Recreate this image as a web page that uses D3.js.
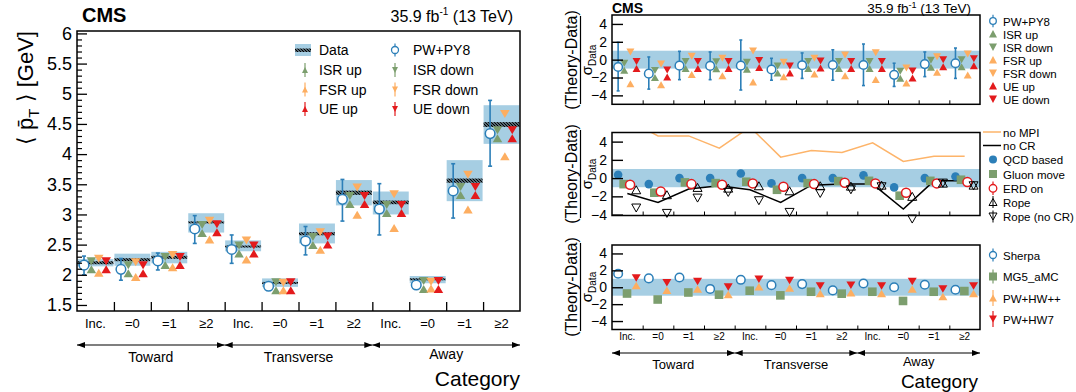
<!DOCTYPE html>
<html>
<head>
<meta charset="utf-8">
<script src="https://cdn.jsdelivr.net/npm/d3@7"></script>
<style>
  body { margin: 0; background: #fff; }
  svg { font-family: "Liberation Sans", Arial, Helvetica, sans-serif; }
</style>
</head>
<body>
<div id="chart"></div>
<script>
// ---- data ----
const categories = ["Inc.", "=0", "=1", "≥2", "Inc.", "=0", "=1", "≥2", "Inc.", "=0", "=1", "≥2"];
const regions = ["Toward", "Transverse", "Away"];

// left: <pT> in GeV
const dataMean = [2.20, 2.25, 2.29, 2.87, 2.47, 1.87, 2.68, 3.36, 3.20, 1.93, 3.56, 4.49];
const dataStat = [0.025, 0.025, 0.025, 0.015, 0.015, 0.012, 0.025, 0.035, 0.03, 0.012, 0.035, 0.04];
const bandLo = [2.14, 2.15, 2.19, 2.70, 2.39, 1.80, 2.52, 3.15, 3.00, 1.86, 3.22, 4.17];
const bandHi = [2.26, 2.35, 2.38, 3.02, 2.57, 1.94, 2.85, 3.57, 3.38, 1.98, 3.90, 4.81];
const pwpy8 = [2.16, 2.09, 2.23, 2.76, 2.42, 1.81, 2.56, 3.25, 3.09, 1.83, 3.39, 4.34];
const pwpy8Lo = [2.00, 1.91, 2.08, 2.52, 2.19, 1.76, 2.33, 2.89, 2.66, 1.78, 2.94, 3.80];
const pwpy8Hi = [2.31, 2.27, 2.36, 2.98, 2.66, 1.85, 2.80, 3.58, 3.51, 1.87, 3.84, 4.89];
const isrUp = [2.16, 2.09, 2.23, 2.76, 2.42, 1.81, 2.56, 3.24, 3.09, 1.83, 3.39, 4.33];
const isrDown = [2.16, 2.09, 2.23, 2.76, 2.42, 1.81, 2.56, 3.24, 3.09, 1.83, 3.39, 4.33];
const fsrUp = [2.10, 2.03, 2.19, 2.65, 2.32, 1.81, 2.48, 3.06, 2.84, 1.84, 3.15, 4.03];
const fsrDown = [2.20, 2.14, 2.26, 2.83, 2.50, 1.80, 2.64, 3.38, 3.27, 1.82, 3.59, 4.60];
const ueUp = [2.16, 2.09, 2.23, 2.77, 2.42, 1.81, 2.57, 3.24, 3.09, 1.83, 3.39, 4.33];
const ueDown = [2.16, 2.09, 2.23, 2.77, 2.42, 1.81, 2.57, 3.24, 3.09, 1.83, 3.39, 4.33];

// right top: (theory-data)/sigma
const pw1 = [-0.82, -1.57, -0.67, -0.70, -0.67, -1.10, -0.62, -0.60, -0.60, -1.70, -0.50, -0.40];
const pw1Lo = [-3.5, -3.3, -2.24, -2.24, -3.4, -2.3, -2.1, -2.3, -2.9, -3.0, -1.9, -2.1];
const pw1Hi = [1.94, 0.3, 0.93, 0.86, 2.2, 0.15, 0.75, 1.1, 1.75, -0.4, 0.86, 1.3];
const isr1 = [-0.8, -1.6, -0.6, -0.63, -0.67, -1.1, -0.6, -0.6, -0.6, -1.7, -0.45, -0.4];
const fsrUp1 = [-2.32, -2.42, -1.27, -1.42, -2.12, -1.52, -1.22, -1.42, -1.82, -2.22, -1.02, -1.32];
const fsrDown1 = [0.47, -0.88, -0.01, -0.23, 0.59, -0.68, -0.23, 0.12, 0.37, -1.33, -0.08, 0.25];
const ue1 = [-0.6, -1.55, -0.6, -0.6, -0.5, -1.1, -0.55, -0.6, -0.6, -1.65, -0.4, -0.3];

// right middle
const noMPI = [6.4, 4.63, 4.63, 3.28, 5.6, 2.3, 3.03, 2.8, 3.87, 1.82, 2.4, 2.4];
const noCR = [-1.68, -2.66, -1.2, -0.84, -1.28, -2.66, -0.77, -0.66, -0.66, -3.4, -0.3, -0.3];
const qcdBased = [0.36, -0.66, 0, 0, 0.5, -0.58, 0, 0, 0.3, -1.02, 0, 0.18];
const gluonMove = [-0.66, -1.6, -0.47, -0.55, -0.4, -1.28, -0.55, -0.33, -0.3, -1.93, -0.3, -0.18];
const erdOn = [-0.73, -1.46, -0.66, -0.73, -0.58, -0.95, -0.66, -0.51, -0.58, -1.6, -0.58, -0.44];
const rope = [-1.28, -1.82, -1.02, -1.1, -0.84, -1.39, -0.84, -0.88, -0.77, -2.0, -0.55, -0.77];
const ropeNoCR = [-3.28, -3.87, -2.19, -1.57, -2.48, -3.76, -1.68, -1.28, -0.95, -4.49, -0.55, -0.84];

// right bottom
const sherpa = [1.6, 1.05, 1.15, -0.2, 0.88, 0.25, 0.37, -0.37, 0.45, 0.0, 0.3, -0.3];
const mg5 = [-0.74, -1.45, -0.62, -0.88, -0.41, -0.96, -0.53, -0.76, -0.53, -1.62, -0.53, -0.45];
const pwhwpp = [0.65, 0.1, 0.25, -0.4, 0.5, 0.35, -0.3, -0.2, -0.3, 0.25, -0.64, -0.3];
const pwhw7 = [0.65, 0.1, 0.25, -0.4, 0.5, 0.35, -0.3, -0.2, -0.3, 0.25, -0.64, -0.3];

const leftTicks = [1.5, 2, 2.5, 3, 3.5, 4, 4.5, 5, 5.5, 6];
const ratioTicks = [-4, -2, 0, 2, 4];

// ---- colours ----
const cBlue = "#2c7fb8", cBand = "#a6cee3", cGreen = "#7c9e6e",
      cOrange = "#fdae61", cRed = "#e31a1c", cLine = "#fdb46a";

const svg = d3.select("#chart").append("svg")
  .attr("width", 1076).attr("height", 392);

const defs = svg.append("defs");
const hatch = defs.append("pattern").attr("id", "hatch")
  .attr("patternUnits", "userSpaceOnUse").attr("width", 3).attr("height", 3);
hatch.append("path").attr("d", "M-1,-1L4,4M2,-1L4,1M-1,2L1,4")
  .attr("stroke", "#000").attr("stroke-width", 1.4);
defs.append("marker").attr("id", "arrow").attr("viewBox", "0 0 8 6")
  .attr("refX", 8).attr("refY", 3).attr("markerWidth", 8).attr("markerHeight", 6)
  .attr("markerUnits", "userSpaceOnUse").attr("orient", "auto-start-reverse")
  .append("path").attr("d", "M0,0L8,3L0,6z").attr("fill", "#000");

// marker helpers
function triApex(g, x, y, up, w, h, fill) {   // apex at (x,y)
  const s = up ? 1 : -1;
  g.append("path")
    .attr("d", `M${x},${y}L${x - w / 2},${y + s * h}L${x + w / 2},${y + s * h}Z`)
    .attr("fill", fill);
}
function triCentre(g, x, y, up, w, h) {
  const s = up ? 1 : -1;
  g.append("path")
    .attr("d", `M${x},${y - s * h / 2}L${x - w / 2},${y + s * h / 2}L${x + w / 2},${y + s * h / 2}Z`)
    .attr("fill", "none").attr("stroke", "#000").attr("stroke-width", 1);
}
function errBar(g, x, y0, y1, col, cap) {
  g.append("line").attr("x1", x).attr("x2", x).attr("y1", y0).attr("y2", y1)
    .attr("stroke", col).attr("stroke-width", 1.6);
  [y0, y1].forEach(yy => g.append("line").attr("x1", x - cap).attr("x2", x + cap)
    .attr("y1", yy).attr("y2", yy).attr("stroke", col).attr("stroke-width", 1.6));
}
function openCircle(g, x, y, r, col) {
  g.append("circle").attr("cx", x).attr("cy", y).attr("r", r)
    .attr("fill", "#fff").attr("stroke", col).attr("stroke-width", 1.5);
}
function sigmaTitle(cx, cy) {
  svg.append("text").attr("transform", `translate(577,${cy}) rotate(-90)`)
    .attr("text-anchor", "middle").attr("font-size", 16).text("(Theory-Data)");
  svg.append("line").attr("x1", 580.5).attr("x2", 580.5)
    .attr("y1", cy - 44).attr("y2", cy + 44).attr("stroke", "#000").attr("stroke-width", 1.2);
  const t2 = svg.append("text").attr("transform", `translate(592,${cy}) rotate(-90)`)
    .attr("text-anchor", "middle").attr("font-size", 15);
  t2.append("tspan").text("σ");
  t2.append("tspan").attr("font-size", 10).attr("dy", 4).text("Data");
}

// =================== LEFT PANEL ===================
const xL = d3.scaleLinear().domain([0, 12]).range([77, 520]);
const yL = d3.scaleLinear().domain([1.40, 6.04]).range([311, 31]);
const gL = svg.append("g");

categories.forEach((c, i) => {
  gL.append("rect").attr("x", xL(i) + 0.5).attr("width", xL(i + 1) - xL(i) - 1)
    .attr("y", yL(bandHi[i])).attr("height", yL(bandLo[i]) - yL(bandHi[i]))
    .attr("fill", cBand);
  const hy = yL(dataMean[i] + dataStat[i]), hh = Math.max(2, yL(dataMean[i] - dataStat[i]) - hy);
  gL.append("rect").attr("x", xL(i) + 0.5).attr("width", xL(i + 1) - xL(i) - 1)
    .attr("y", hy).attr("height", hh).attr("fill", "url(#hatch)");
});
categories.forEach((c, i) => {
  const xp = xL(i + 0.19), xi = xL(i + 0.39), xf = xL(i + 0.59), xu = xL(i + 0.79);
  errBar(gL, xp, yL(pwpy8Hi[i]), yL(pwpy8Lo[i]), cBlue, 2);
  openCircle(gL, xp, yL(pwpy8[i]), 4.8, cBlue);
  triApex(gL, xi, yL(isrUp[i]), true, 9.5, 8, cGreen);
  triApex(gL, xi, yL(isrDown[i]), false, 9.5, 8, cGreen);
  triApex(gL, xf, yL(fsrUp[i]), true, 9.5, 8, cOrange);
  triApex(gL, xf, yL(fsrDown[i]), false, 9.5, 8, cOrange);
  triApex(gL, xu, yL(ueUp[i]), true, 9.5, 8, cRed);
  triApex(gL, xu, yL(ueDown[i]), false, 9.5, 8, cRed);
});

// frame + axes
gL.append("rect").attr("x", 77).attr("y", 31).attr("width", 443).attr("height", 280)
  .attr("fill", "none").attr("stroke", "#000").attr("stroke-width", 1.5);
const minorL = d3.range(15, 61).map(v => v / 10).filter(v => Math.abs(v * 2 - Math.round(v * 2)) > 1e-6);
gL.append("g").attr("transform", "translate(77,0)")
  .call(d3.axisLeft(yL).tickValues(minorL).tickSize(-5).tickFormat(""))
  .call(g => g.select(".domain").remove())
  .selectAll("line").attr("stroke-width", 1.2);
gL.append("g").attr("transform", "translate(77,0)")
  .call(d3.axisLeft(yL).tickValues(leftTicks).tickSize(-10).tickPadding(5).tickFormat(d => d))
  .call(g => g.select(".domain").remove())
  .call(g => g.selectAll("line").attr("stroke-width", 1.3))
  .selectAll("text").attr("font-size", 18).attr("font-family", "Liberation Sans, Arial").attr("fill", "#000");
gL.append("g").attr("transform", "translate(0,311)")
  .call(d3.axisBottom(xL).tickValues(d3.range(1, 12)).tickSize(-9).tickFormat(""))
  .call(g => g.select(".domain").remove())
  .selectAll("line").attr("stroke-width", 1.3);

gL.selectAll(".catL").data(categories).join("text")
  .attr("x", (d, i) => xL(i + 0.5)).attr("y", 328)
  .attr("text-anchor", "middle").attr("font-size", 13).text(d => d);
regions.forEach((r, k) => {
  gL.append("line").attr("x1", xL(4 * k)).attr("x2", xL(4 * k + 4)).attr("y1", 345).attr("y2", 345)
    .attr("stroke", "#000").attr("stroke-width", 1.2)
    .attr("marker-start", "url(#arrow)").attr("marker-end", "url(#arrow)");
  gL.append("text").attr("x", xL(4 * k + 2)).attr("y", k === 2 ? 359 : 362)
    .attr("text-anchor", "middle").attr("font-size", 14).text(r);
});
gL.append("text").attr("x", 520).attr("y", 386).attr("text-anchor", "end")
  .attr("font-size", 21).text("Category");

// titles
gL.append("text").attr("x", 82).attr("y", 22).attr("font-size", 20).attr("font-weight", "bold").text("CMS");
const lumiL = gL.append("text").attr("x", 513).attr("y", 22).attr("text-anchor", "end").attr("font-size", 16);
lumiL.append("tspan").text("35.9 fb");
lumiL.append("tspan").attr("font-size", 10).attr("dy", -7).text("-1");
lumiL.append("tspan").attr("dy", 7).text(" (13 TeV)");

const yTitle = gL.append("text").attr("transform", "translate(33,31) rotate(-90)")
  .attr("text-anchor", "end").attr("font-size", 22);
yTitle.append("tspan").text("⟨ p\u0304");
yTitle.append("tspan").attr("font-size", 15).attr("dy", 6).text("T");
yTitle.append("tspan").attr("dy", -6).text(" ⟩ [GeV]");

// left legend
const lg = gL.append("g").attr("font-size", 14);
lg.append("rect").attr("x", 295).attr("y", 44).attr("width", 16).attr("height", 12).attr("fill", cBand);
lg.append("rect").attr("x", 295).attr("y", 48.5).attr("width", 16).attr("height", 3.5).attr("fill", "url(#hatch)");
lg.append("text").attr("x", 319).attr("y", 55).text("Data");
function legTri(g, x, y, up, col, w, h) {
  g.append("line").attr("x1", x).attr("x2", x).attr("y1", y - h - 1).attr("y2", y + h + 1)
    .attr("stroke", col).attr("stroke-width", 1.2);
  g.append("path").attr("d", up
      ? `M${x},${y - h / 2}L${x - w / 2},${y + h / 2}L${x + w / 2},${y + h / 2}Z`
      : `M${x},${y + h / 2}L${x - w / 2},${y - h / 2}L${x + w / 2},${y - h / 2}Z`)
    .attr("fill", col);
}
function legCirc(g, x, y, col, r) {
  g.append("line").attr("x1", x).attr("x2", x).attr("y1", y - r - 3).attr("y2", y + r + 3)
    .attr("stroke", col).attr("stroke-width", 1.2);
  g.append("circle").attr("cx", x).attr("cy", y).attr("r", r).attr("fill", "#fff")
    .attr("stroke", col).attr("stroke-width", 1.3);
}
legCirc(lg, 395, 50, cBlue, 3.5);
lg.append("text").attr("x", 413).attr("y", 55).text("PW+PY8");
[["ISR up", "ISR down", cGreen], ["FSR up", "FSR down", cOrange], ["UE up", "UE down", cRed]]
  .forEach((r, k) => {
    const yy = 70 + k * 19.5;
    legTri(lg, 305, yy, true, r[2], 6, 6);
    lg.append("text").attr("x", 319).attr("y", yy + 5).text(r[0]);
    legTri(lg, 395, yy, false, r[2], 6, 6);
    lg.append("text").attr("x", 413).attr("y", yy + 5).text(r[1]);
  });

// =================== RIGHT PANELS ===================
const xR = d3.scaleLinear().domain([0, 12]).range([612, 980]);
const y1 = d3.scaleLinear().domain([-5, 5]).range([104.3, 15]);
const y2 = d3.scaleLinear().domain([-4.1, 5]).range([215.5, 132.5]);
const y3 = d3.scaleLinear().domain([-5, 5]).range([329.5, 245]);

function ratioFrame(ys) {
  const g = svg.append("g");
  g.append("rect").attr("x", 612).attr("width", 368)
    .attr("y", ys(1)).attr("height", ys(-1) - ys(1)).attr("fill", cBand);
  return g;
}
function ratioAxes(ys) {
  const [b, t] = ys.range();
  svg.append("rect").attr("x", 612).attr("y", t).attr("width", 368).attr("height", b - t)
    .attr("fill", "none").attr("stroke", "#000").attr("stroke-width", 1.5);
  svg.append("g").attr("transform", "translate(612,0)")
    .call(d3.axisLeft(ys).tickValues(ratioTicks).tickSize(-11).tickPadding(5))
    .call(g => g.select(".domain").remove())
    .call(g => g.selectAll("line").attr("stroke-width", 1.4))
    .selectAll("text").attr("font-size", 14).attr("font-family", "Liberation Sans, Arial").attr("fill", "#000");
  svg.append("g").attr("transform", `translate(0,${b})`)
    .call(d3.axisBottom(xR).tickValues(d3.range(1, 12)).tickSize(-4).tickFormat(""))
    .call(g => g.select(".domain").remove());
}

// panel 1
const g1 = ratioFrame(y1);
categories.forEach((c, i) => {
  const xp = xR(i + 0.2), xi = xR(i + 0.4), xf = xR(i + 0.6), xu = xR(i + 0.8);
  errBar(g1, xp, y1(pw1Hi[i]), y1(pw1Lo[i]), cBlue, 1.5);
  openCircle(g1, xp, y1(pw1[i]), 4.3, cBlue);
  triApex(g1, xi, y1(isr1[i]), true, 8, 7, cGreen);
  triApex(g1, xi, y1(isr1[i]), false, 8, 7, cGreen);
  triApex(g1, xf, y1(fsrUp1[i]), true, 8, 7, cOrange);
  triApex(g1, xf, y1(fsrDown1[i]), false, 8, 7, cOrange);
  triApex(g1, xu, y1(ue1[i]), true, 8, 7, cRed);
  triApex(g1, xu, y1(ue1[i]), false, 8, 7, cRed);
});
ratioAxes(y1);
sigmaTitle(572, 60);

svg.append("text").attr("x", 612).attr("y", 12.5).attr("font-size", 14).attr("font-weight", "bold").text("CMS");
const lumiR = svg.append("text").attr("x", 971).attr("y", 12.5).attr("text-anchor", "end").attr("font-size", 13.5);
lumiR.append("tspan").text("35.9 fb");
lumiR.append("tspan").attr("font-size", 9).attr("dy", -5).text("-1");
lumiR.append("tspan").attr("dy", 5).text(" (13 TeV)");

const lr1 = svg.append("g").attr("font-size", 11.5);
const leg1 = [["PW+PY8", "c", cBlue], ["ISR up", "u", cGreen], ["ISR down", "d", cGreen],
  ["FSR up", "u", cOrange], ["FSR down", "d", cOrange], ["UE up", "u", cRed], ["UE down", "d", cRed]];
leg1.forEach((e, k) => {
  const yy = 21 + k * 13;
  if (e[1] === "c") legCirc(lr1, 993, yy, e[2], 3.3);
  else lr1.append("path").attr("d", e[1] === "u"
      ? `M993,${yy - 4}L989,${yy + 3.5}L997,${yy + 3.5}Z`
      : `M993,${yy + 4}L989,${yy - 3.5}L997,${yy - 3.5}Z`).attr("fill", e[2]);
  lr1.append("text").attr("x", 1003).attr("y", yy + 4.5).text(e[0]);
});

// panel 2
const g2 = ratioFrame(y2);
defs.append("clipPath").attr("id", "clip2").append("rect")
  .attr("x", 612).attr("y", 132.5).attr("width", 368).attr("height", 83);
const line2 = d3.line().x((d, i) => xR(i + 0.5)).y(d => y2(d));
g2.append("path").attr("d", line2(noMPI)).attr("clip-path", "url(#clip2)")
  .attr("fill", "none").attr("stroke", cLine).attr("stroke-width", 1.5);
g2.append("path").attr("d", line2(noCR)).attr("clip-path", "url(#clip2)")
  .attr("fill", "none").attr("stroke", "#000").attr("stroke-width", 1.5);
categories.forEach((c, i) => {
  g2.append("circle").attr("cx", xR(i + 0.2)).attr("cy", y2(qcdBased[i])).attr("r", 4.3).attr("fill", cBlue);
  g2.append("rect").attr("x", xR(i + 0.38) - 4.3).attr("y", y2(gluonMove[i]) - 4.3)
    .attr("width", 8.6).attr("height", 8.6).attr("fill", cGreen);
  openCircle(g2, xR(i + 0.59), y2(erdOn[i]), 4.5, cRed);
  triCentre(g2, xR(i + 0.79), y2(rope[i]), true, 9, 8);
  triCentre(g2, xR(i + 0.79), y2(ropeNoCR[i]), false, 9, 8);
});
ratioAxes(y2);
sigmaTitle(572, 174);

const lr2 = svg.append("g").attr("font-size", 11.5);
const leg2y = [132, 145.5, 159.5, 174, 188.3, 202, 216.5];
lr2.append("line").attr("x1", 983).attr("x2", 1001).attr("y1", leg2y[0]).attr("y2", leg2y[0])
  .attr("stroke", cLine).attr("stroke-width", 1.5);
lr2.append("line").attr("x1", 983).attr("x2", 1001).attr("y1", leg2y[1]).attr("y2", leg2y[1])
  .attr("stroke", "#000").attr("stroke-width", 1.5);
lr2.append("circle").attr("cx", 993).attr("cy", leg2y[2]).attr("r", 4).attr("fill", cBlue);
lr2.append("rect").attr("x", 989).attr("y", leg2y[3] - 4).attr("width", 8).attr("height", 8).attr("fill", cGreen);
legCirc(lr2, 993, leg2y[4], cRed, 3.8);
[[5, true], [6, false]].forEach(([k, up]) => {
  lr2.append("line").attr("x1", 993).attr("x2", 993).attr("y1", leg2y[k] - 6).attr("y2", leg2y[k] + 6)
    .attr("stroke", "#000").attr("stroke-width", 1);
  triCentre(lr2, 993, leg2y[k], up, 8, 7);
});
["no MPI", "no CR", "QCD based", "Gluon move", "ERD on", "Rope", "Rope (no CR)"].forEach((t, k) => {
  lr2.append("text").attr("x", 1003).attr("y", leg2y[k] + 4.5).text(t);
});

// panel 3
const g3 = ratioFrame(y3);
categories.forEach((c, i) => {
  openCircle(g3, xR(i + 0.2), y3(sherpa[i]), 4.3, cBlue);
  g3.append("rect").attr("x", xR(i + 0.49) - 4.3).attr("y", y3(mg5[i]) - 4.3)
    .attr("width", 8.6).attr("height", 8.6).attr("fill", cGreen);
  triApex(g3, xR(i + 0.79), y3(pwhwpp[i]), true, 9, 7.5, cOrange);
  triApex(g3, xR(i + 0.79), y3(pwhw7[i]), false, 9, 7.5, cRed);
});
ratioAxes(y3);
sigmaTitle(572, 287);

const lr3 = svg.append("g").attr("font-size", 11.5);
const leg3y = [255, 276.5, 298, 319];
legCirc(lr3, 993, leg3y[0], cBlue, 3.5);
lr3.append("line").attr("x1", 993).attr("x2", 993).attr("y1", leg3y[1] - 7).attr("y2", leg3y[1] + 7)
  .attr("stroke", cGreen).attr("stroke-width", 1.2);
lr3.append("rect").attr("x", 989).attr("y", leg3y[1] - 4).attr("width", 8).attr("height", 8).attr("fill", cGreen);
legTri(lr3, 993, leg3y[2], true, cOrange, 8, 7);
legTri(lr3, 993, leg3y[3], false, cRed, 8, 7);
["Sherpa", "MG5_aMC", "PW+HW++", "PW+HW7"].forEach((t, k) => {
  lr3.append("text").attr("x", 1003).attr("y", leg3y[k] + 4.5).text(t);
});

// right x labels
svg.selectAll(".catR").data(categories).join("text")
  .attr("x", (d, i) => xR(i + 0.5)).attr("y", 340)
  .attr("text-anchor", "middle").attr("font-size", 10).text(d => d);
regions.forEach((r, k) => {
  svg.append("line").attr("x1", xR(4 * k)).attr("x2", xR(4 * k + 4)).attr("y1", 353).attr("y2", 353)
    .attr("stroke", "#000").attr("stroke-width", 1.2)
    .attr("marker-start", "url(#arrow)").attr("marker-end", "url(#arrow)");
  svg.append("text").attr("x", xR(4 * k + 2)).attr("y", k === 2 ? 366 : 369)
    .attr("text-anchor", "middle").attr("font-size", 13).text(r);
});
svg.append("text").attr("x", 978).attr("y", 388).attr("text-anchor", "end")
  .attr("font-size", 19).text("Category");
</script>
</body>
</html>
